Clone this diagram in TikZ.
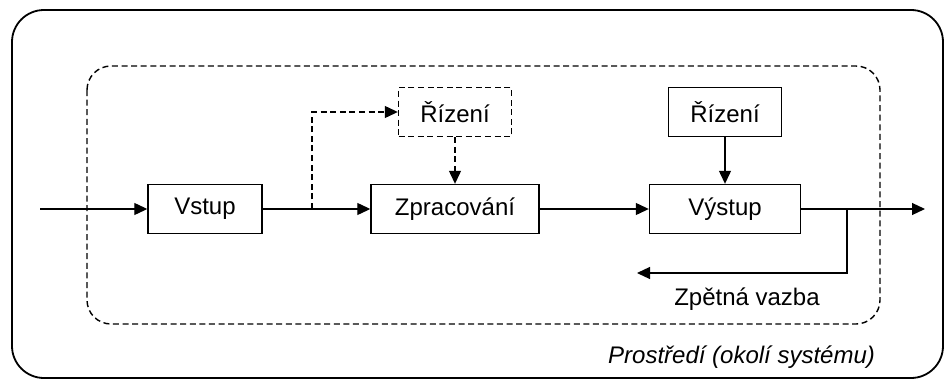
\documentclass[tikz,border=0pt]{standalone}
\usepackage{fontspec}
\setmainfont{Liberation Sans}
\usetikzlibrary{arrows.meta}
\tikzset{
	blok/.style={draw, line width=0.7pt, minimum height=24.5pt, inner sep=2pt, font=\fontsize{12}{14}\selectfont},
	sip/.style={-{Triangle[length=6.5pt,width=6pt]}, line width=0.6pt},
	carkovane/.style={dash pattern=on 3pt off 1.8pt}
}

\begin{document}
\begin{tikzpicture}[x=0.5pt,y=-0.5pt]
		\useasboundingbox (0,0) rectangle (948,380);
		% okoli a system
		\draw[line width=0.9pt, rounded corners=16pt] (12,10) rectangle (943,378);
		\draw[line width=0.7pt, carkovane, rounded corners=12pt] (87,66) rectangle (880,324);
		
		\node[blok, minimum width=57pt] (vstup) at (205,209) {Vstup};
		\node[blok, minimum width=84pt] (zprac) at (455,209) {Zpracování};
		\node[blok, minimum width=75.5pt] (vystup) at (725,209) {Výstup};
		\node[blok, carkovane, minimum width=56.5pt] (riz1) at (455,112) {Řízení};
		\node[blok, minimum width=56.5pt] (riz2) at (725,112) {Řízení};
		
		\coordinate (vchod) at (40,209);
		\coordinate (odboc) at (312,209);
		\coordinate (zpet) at (847,209);
		\coordinate (vychod) at (925,209);
		\coordinate (zpetkonec) at (637,273);
		
		\draw[sip] (vchod) -- (vstup);
		\draw[line width=0.6pt] (vstup) -- (odboc);
		\draw[sip] (odboc) -- (zprac);
		\draw[sip, carkovane] (odboc) |- (riz1);
		\draw[sip, carkovane] (riz1) -- (zprac);
		\draw[sip] (zprac) -- (vystup);
		\draw[sip] (riz2) -- (vystup);
		\draw[sip] (vystup) -- (vychod);
		\draw[sip] (zpet) |- (zpetkonec);
		
		\node[font=\fontsize{12}{14}\selectfont] (vazba) at (747,299) {Zpětná vazba};
		\node[anchor=east, font=\fontsize{12}{14}\selectfont\itshape] (okoli) at (882,357) {Prostředí (okolí systému)};
	\end{tikzpicture}
\end{document}
